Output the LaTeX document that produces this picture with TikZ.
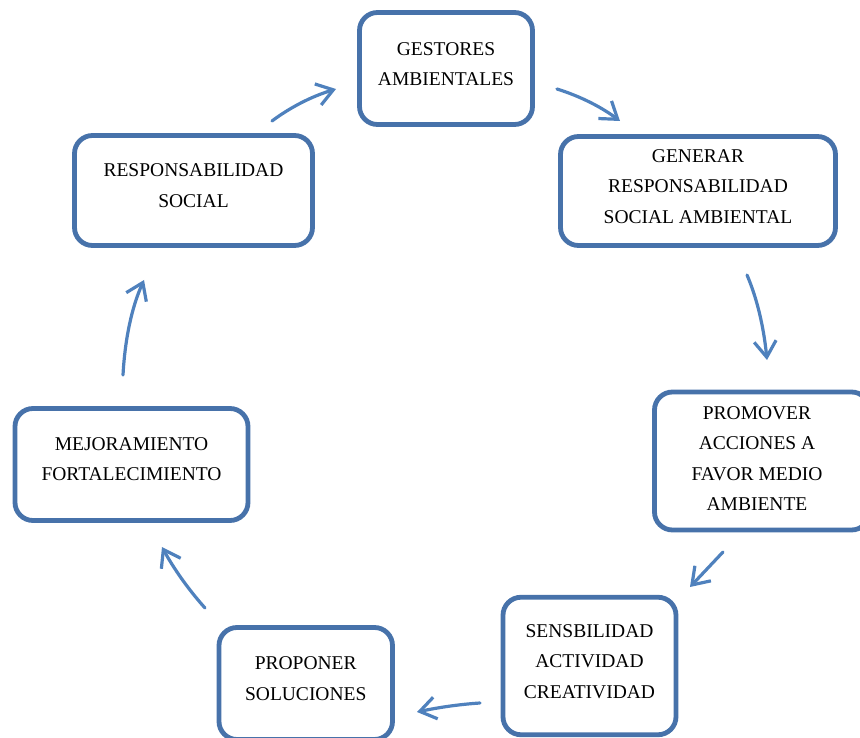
\documentclass[tikz,border=0pt]{standalone}
\usepackage{fontspec}
\setmainfont{Liberation Serif}
\usetikzlibrary{arrows.meta}
\definecolor{boxblue}{RGB}{71,114,170}
\definecolor{arrblue}{RGB}{79,129,189}
\begin{document}
\begin{tikzpicture}[x=1pt,y=-1pt,
  box/.style={draw=boxblue, line width=4.8pt, rounded corners=18pt, fill=white, inner sep=0pt},
  txt/.style={align=center, font=\fontsize{19.5}{30.5}\selectfont, inner sep=0pt, text=black},
  arr/.style={draw=arrblue, line width=3.2pt, line cap=round, -{Straight Barb[length=16pt,width=22pt]}}]
\useasboundingbox (0,0) rectangle (860,738);
\clip (0,0) rectangle (860,738);
% boxes
\node[box, minimum width=173pt, minimum height=112pt] (g) at (446,68.5) {};
\node[box, minimum width=275pt, minimum height=109pt] (gen) at (698,191) {};
\node[box, minimum width=238pt, minimum height=110pt] (rs) at (193.5,190.5) {};
\node[box, minimum width=215pt, minimum height=138pt] (prom) at (762,461) {};
\node[box, minimum width=233pt, minimum height=112pt] (mej) at (131.5,464.5) {};
\node[box, minimum width=173pt, minimum height=137.5pt] (sens) at (589.5,666) {};
\node[box, minimum width=173.5pt, minimum height=112pt] (prop) at (305.75,683.5) {};
% texts
\node[txt] (gt) at (446,64) {GESTORES\\AMBIENTALES};
\node[txt] (gent) at (698,186.5) {GENERAR\\RESPONSABILIDAD\\SOCIAL AMBIENTAL};
\node[txt] (rst) at (193.5,185.5) {RESPONSABILIDAD\\SOCIAL};
\node[txt] (promt) at (757,458.5) {PROMOVER\\ACCIONES A\\FAVOR MEDIO\\AMBIENTE};
\node[txt] (mejt) at (131.5,459) {MEJORAMIENTO\\FORTALECIMIENTO};
\node[txt] (senst) at (589.5,661.5) {SENSBILIDAD\\ACTIVIDAD\\CREATIVIDAD};
\node[txt] (propt) at (305.75,678.5) {PROPONER\\SOLUCIONES};
% arrow end points
\coordinate (a1s) at (272,121); \coordinate (a1e) at (336,89);
\coordinate (a2s) at (557,89);  \coordinate (a2e) at (620,121);
\coordinate (a3s) at (747,275); \coordinate (a3e) at (767,360);
\coordinate (a4s) at (723,552); \coordinate (a4e) at (690,587);
\coordinate (a5s) at (480,703); \coordinate (a5e) at (417,712);
\coordinate (a6s) at (205,608); \coordinate (a6e) at (162,547);
\coordinate (a7s) at (123,375); \coordinate (a7e) at (144,280);
% arrows
\draw[arr] (a1s) .. controls (290.7,107) and (312,96.3) .. (a1e);
\draw[arr] (a2s) .. controls (580.3,96.3) and (601.3,107) .. (a2e);
\draw[arr] (a3s) .. controls (757,298.3) and (763.7,326.7) .. (a3e);
\draw[arr] (a4s) -- (a4e);
\draw[arr] (a5s) .. controls (460,704.3) and (439,707.3) .. (a5e);
\draw[arr] (a6s) .. controls (188.3,589.3) and (174,569) .. (a6e);
\draw[arr] (a7s) .. controls (125,338.3) and (132,306.7) .. (a7e);
\end{tikzpicture}
\end{document}
